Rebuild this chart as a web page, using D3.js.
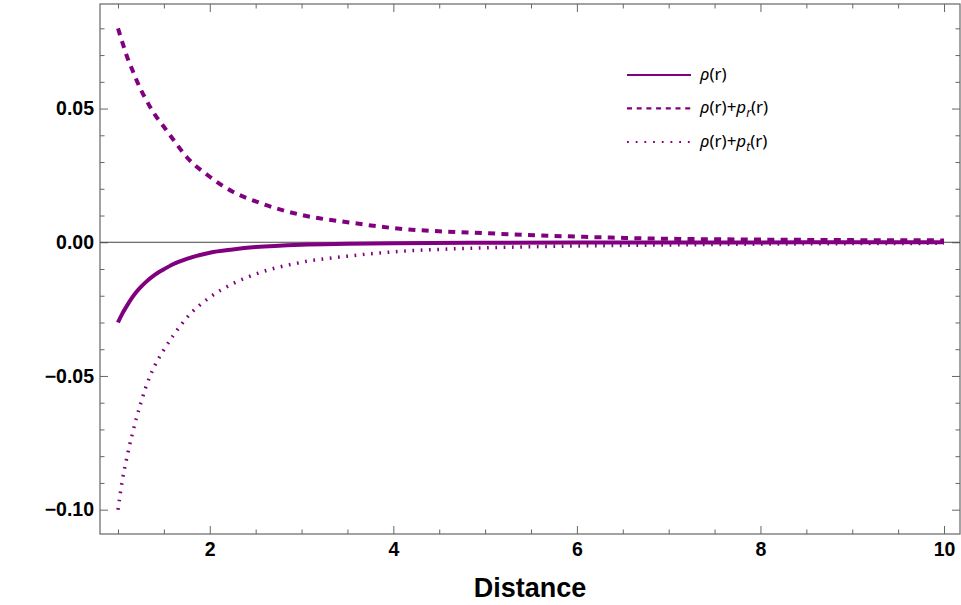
<!DOCTYPE html>
<html>
<head>
<meta charset="utf-8">
<script src="https://cdn.jsdelivr.net/npm/d3@7"></script>
<style>
  body { margin: 0; background: #fff; }
  svg { display: block; }
</style>
</head>
<body>
<svg id="chart"></svg>
<script>
// values
const rValues     = [1, 1.05, 1.1, 1.15, 1.2, 1.25, 1.3, 1.4, 1.5, 1.6, 1.75, 2, 2.25, 2.5, 3, 3.5, 4, 5, 6, 7, 8, 9, 10];
const rhoValues   = [-0.030, -0.0265, -0.0236, -0.0209, -0.0186, -0.0167, -0.0150, -0.0122, -0.0101, -0.0082, -0.0062, -0.0039, -0.0027, -0.0018, -0.0009, -0.0006, -0.0004, -0.0002, -0.0001, -0.0001, -0.00005, 0, 0];
const rhoPrValues = [0.080, 0.0745, 0.0693, 0.0650, 0.0608, 0.0570, 0.0537, 0.0478, 0.0432, 0.0385, 0.0318, 0.0245, 0.0189, 0.0153, 0.0102, 0.0075, 0.0053, 0.0034, 0.0021, 0.0013, 0.0010, 0.0008, 0.0007];
const rhoPtValues = [-0.100, -0.0885, -0.0800, -0.0725, -0.0658, -0.0600, -0.0545, -0.0462, -0.0402, -0.0350, -0.0282, -0.0206, -0.0155, -0.0119, -0.0075, -0.0052, -0.0036, -0.0021, -0.0014, -0.0010, -0.0007, -0.0005, -0.0004];

const xMajorTicks = [2, 4, 6, 8, 10];
const yMajorTicks = [-0.10, -0.05, 0, 0.05];

const width = 961, height = 605;
const plotLeft = 100, plotRight = 960, plotTop = 4, plotBottom = 534;
const purple = "#800080";
const frameColor = "#666";

const svg = d3.select("#chart").attr("width", width).attr("height", height);

const x = d3.scaleLinear().domain([0.804, 10.174]).range([plotLeft, plotRight]);
const y = d3.scaleLinear().domain([-0.1091, 0.0891]).range([plotBottom, plotTop]);

// minor ticks
const xMinor = d3.range(1, 10.01, 0.5).filter(v => !xMajorTicks.includes(v));
const yMinor = d3.range(-10, 9).map(v => v / 100).filter(v => !yMajorTicks.some(t => Math.abs(t - v) < 1e-9));

function addAxis(axis, tx, ty, labels) {
    const g = svg.append("g").attr("transform", "translate(" + tx + "," + ty + ")").call(axis);
    g.select(".domain").remove();
    g.selectAll(".tick line").attr("stroke", frameColor);
    if (!labels) g.selectAll(".tick text").remove();
    g.selectAll(".tick text")
        .attr("font-family", "Liberation Sans, Arial, sans-serif")
        .attr("font-weight", "bold")
        .attr("font-size", 19.5)
        .attr("fill", "#000");
    return g;
}

// major + minor on all four sides, ticks pointing inside
[[d3.axisBottom, 0, plotBottom, true], [d3.axisTop, 0, plotTop, false]].forEach(([fn, tx, ty, lab]) => {
    addAxis(fn(x).tickValues(xMinor).tickSize(-4.5).tickFormat(""), tx, ty, false);
    addAxis(fn(x).tickValues(xMajorTicks).tickSize(-8).tickPadding(8).tickFormat(d3.format("d")), tx, ty, lab);
});
[[d3.axisLeft, plotLeft, 0, true], [d3.axisRight, plotRight, 0, false]].forEach(([fn, tx, ty, lab]) => {
    addAxis(fn(y).tickValues(yMinor).tickSize(-4.5).tickFormat(""), tx, ty, false);
    addAxis(fn(y).tickValues(yMajorTicks).tickSize(-8).tickPadding(6).tickFormat(d3.format(".2f")), tx, ty, lab);
});

// frame
svg.append("rect")
    .attr("x", plotLeft).attr("y", plotTop)
    .attr("width", plotRight - plotLeft).attr("height", plotBottom - plotTop)
    .attr("fill", "none")
    .attr("stroke", frameColor)
    .attr("stroke-width", 1.2);

// zero line
svg.append("line")
    .attr("x1", plotLeft).attr("x2", plotRight)
    .attr("y1", y(0)).attr("y2", y(0))
    .attr("stroke", "#444")
    .attr("stroke-width", 1);

const series = [
    { values: rhoValues,   width: 4,   dash: null },
    { values: rhoPrValues, width: 4,   dash: "7,6.3" },
    { values: rhoPtValues, width: 3.5, dash: "1.7,6.6" }
];

const line = d3.line()
    .x(d => x(d[0]))
    .y(d => y(d[1]))
    .curve(d3.curveMonotoneX);

series.forEach(s => {
    svg.append("path")
        .datum(rValues.map((r, i) => [r, s.values[i]]))
        .attr("d", line)
        .attr("fill", "none")
        .attr("stroke", purple)
        .attr("stroke-width", s.width)
        .attr("stroke-dasharray", s.dash);
});

// legend
const legendDash = [null, "5,4.7", "1.8,6.9"];
const legendY = [75, 108.3, 142];
const legend = svg.append("g")
    .attr("font-family", "Noto Sans, DejaVu Sans, sans-serif")
    .attr("font-size", 17)
    .attr("fill", "#000");

legendY.forEach((ly, i) => {
    legend.append("line")
        .attr("x1", 627).attr("x2", 691)
        .attr("y1", ly).attr("y2", ly)
        .attr("stroke", purple)
        .attr("stroke-width", i === 2 ? 2 : 2.2)
        .attr("stroke-dasharray", legendDash[i]);
    const t = legend.append("text").attr("x", 700).attr("y", ly + 5);
    t.append("tspan").attr("font-style", "italic").text("ρ");
    t.append("tspan").text(i === 0 ? "(r)" : "(r)+");
    if (i > 0) {
        t.append("tspan").attr("font-style", "italic").text("p");
        t.append("tspan").attr("font-style", "italic").attr("font-size", 12).attr("dy", 4).text(i === 1 ? "r" : "t");
        t.append("tspan").attr("dy", -4).text("(r)");
    }
});

// axis title
svg.append("text")
    .attr("x", (plotLeft + plotRight) / 2)
    .attr("y", 597)
    .attr("text-anchor", "middle")
    .attr("font-family", "Liberation Sans, Arial, sans-serif")
    .attr("font-weight", "bold")
    .attr("font-size", 27)
    .attr("fill", "#000")
    .text("Distance");
</script>
</body>
</html>
